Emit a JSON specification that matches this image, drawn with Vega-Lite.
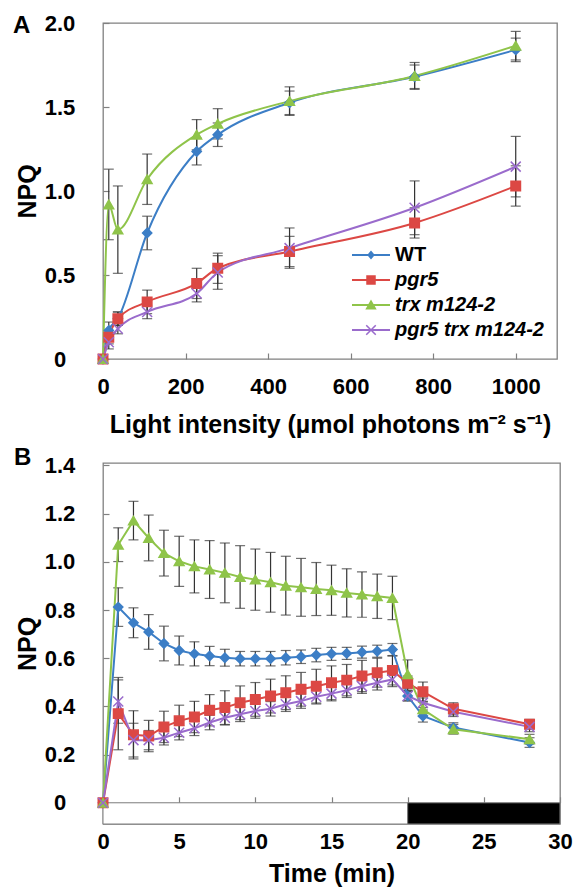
{
  "$schema": "https://vega.github.io/schema/vega-lite/v6.json",
  "padding": {"left": 12, "top": 11, "right": 2, "bottom": 2},
  "background": "white",
  "config": {
    "font": "Liberation Sans",
    "view": {"stroke": "#808080", "strokeWidth": 1.3},
    "axis": {"grid": false, "domain": false, "tickColor": "#808080", "tickSize": -6, "tickWidth": 1.2, "labelFontSize": 22, "labelFontWeight": "bold", "labelColor": "black", "titleFontSize": 25, "titleFontWeight": "bold", "titleColor": "black", "labelFlush": false, "labelOverlap": false},
    "axisY": {"labelAlign": "center", "labelPadding": 49.5, "titlePadding": 4},
    "axisX": {"labelPadding": 23, "titlePadding": 15},
    "title": {"fontSize": 24, "fontWeight": "bold", "color": "black", "anchor": "start", "frame": "group", "offset": 0, "baseline": "alphabetic"}
  },
  "datasets": {
    "a": [
      {"g": "WT", "x": 0, "y": 0, "e": 0}, {"g": "WT", "x": 14, "y": 0.17, "e": 0.05}, {"g": "WT", "x": 36, "y": 0.24, "e": 0.04}, {"g": "WT", "x": 107, "y": 0.75, "e": 0.1}, {"g": "WT", "x": 227, "y": 1.235, "e": 0.08}, {"g": "WT", "x": 278, "y": 1.335, "e": 0.07}, {"g": "WT", "x": 452, "y": 1.525, "e": 0.07}, {"g": "WT", "x": 755, "y": 1.68, "e": 0.07}, {"g": "WT", "x": 1000, "y": 1.84, "e": 0.07},
      {"g": "pgr5", "x": 0, "y": 0, "e": 0}, {"g": "pgr5", "x": 14, "y": 0.13, "e": 0.04}, {"g": "pgr5", "x": 36, "y": 0.24, "e": 0.04}, {"g": "pgr5", "x": 107, "y": 0.34, "e": 0.07}, {"g": "pgr5", "x": 227, "y": 0.45, "e": 0.09}, {"g": "pgr5", "x": 278, "y": 0.54, "e": 0.09}, {"g": "pgr5", "x": 452, "y": 0.64, "e": 0.09}, {"g": "pgr5", "x": 755, "y": 0.81, "e": 0.09}, {"g": "pgr5", "x": 1000, "y": 1.03, "e": 0.12},
      {"g": "trx m124-2", "x": 0, "y": 0, "e": 0}, {"g": "trx m124-2", "x": 14, "y": 0.92, "e": 0.21}, {"g": "trx m124-2", "x": 36, "y": 0.77, "e": 0.26}, {"g": "trx m124-2", "x": 107, "y": 1.07, "e": 0.15}, {"g": "trx m124-2", "x": 227, "y": 1.335, "e": 0.09}, {"g": "trx m124-2", "x": 278, "y": 1.4, "e": 0.09}, {"g": "trx m124-2", "x": 452, "y": 1.535, "e": 0.085}, {"g": "trx m124-2", "x": 755, "y": 1.685, "e": 0.08}, {"g": "trx m124-2", "x": 1000, "y": 1.865, "e": 0.085},
      {"g": "pgr5 trx m124-2", "x": 0, "y": 0, "e": 0}, {"g": "pgr5 trx m124-2", "x": 14, "y": 0.1, "e": 0.04}, {"g": "pgr5 trx m124-2", "x": 36, "y": 0.18, "e": 0.03}, {"g": "pgr5 trx m124-2", "x": 107, "y": 0.28, "e": 0.04}, {"g": "pgr5 trx m124-2", "x": 227, "y": 0.39, "e": 0.05}, {"g": "pgr5 trx m124-2", "x": 278, "y": 0.515, "e": 0.1}, {"g": "pgr5 trx m124-2", "x": 452, "y": 0.66, "e": 0.12}, {"g": "pgr5 trx m124-2", "x": 755, "y": 0.9, "e": 0.16}, {"g": "pgr5 trx m124-2", "x": 1000, "y": 1.145, "e": 0.18}
    ],
    "b": [
      {"g": "WT", "t": 0, "y": 0, "e": 0}, {"g": "WT", "t": 1, "y": 0.812, "e": 0.08}, {"g": "WT", "t": 2, "y": 0.747, "e": 0.062}, {"g": "WT", "t": 3, "y": 0.709, "e": 0.072}, {"g": "WT", "t": 4, "y": 0.661, "e": 0.072}, {"g": "WT", "t": 5, "y": 0.632, "e": 0.06}, {"g": "WT", "t": 6, "y": 0.618, "e": 0.05}, {"g": "WT", "t": 7, "y": 0.609, "e": 0.04}, {"g": "WT", "t": 8, "y": 0.602, "e": 0.035}, {"g": "WT", "t": 9, "y": 0.598, "e": 0.03}, {"g": "WT", "t": 10, "y": 0.598, "e": 0.03}, {"g": "WT", "t": 11, "y": 0.598, "e": 0.03}, {"g": "WT", "t": 12, "y": 0.602, "e": 0.03}, {"g": "WT", "t": 13, "y": 0.606, "e": 0.028}, {"g": "WT", "t": 14, "y": 0.613, "e": 0.028}, {"g": "WT", "t": 15, "y": 0.618, "e": 0.027}, {"g": "WT", "t": 16, "y": 0.62, "e": 0.025}, {"g": "WT", "t": 17, "y": 0.625, "e": 0.025}, {"g": "WT", "t": 18, "y": 0.629, "e": 0.025}, {"g": "WT", "t": 19, "y": 0.636, "e": 0.025}, {"g": "WT", "t": 20, "y": 0.443, "e": 0.02}, {"g": "WT", "t": 21, "y": 0.36, "e": 0.025}, {"g": "WT", "t": 23, "y": 0.312, "e": 0.02}, {"g": "WT", "t": 28, "y": 0.25, "e": 0.02},
      {"g": "pgr5", "t": 0, "y": 0, "e": 0}, {"g": "pgr5", "t": 1, "y": 0.37, "e": 0.15}, {"g": "pgr5", "t": 2, "y": 0.282, "e": 0.1}, {"g": "pgr5", "t": 3, "y": 0.277, "e": 0.065}, {"g": "pgr5", "t": 4, "y": 0.315, "e": 0.065}, {"g": "pgr5", "t": 5, "y": 0.34, "e": 0.065}, {"g": "pgr5", "t": 6, "y": 0.356, "e": 0.065}, {"g": "pgr5", "t": 7, "y": 0.384, "e": 0.065}, {"g": "pgr5", "t": 8, "y": 0.395, "e": 0.07}, {"g": "pgr5", "t": 9, "y": 0.415, "e": 0.07}, {"g": "pgr5", "t": 10, "y": 0.429, "e": 0.07}, {"g": "pgr5", "t": 11, "y": 0.443, "e": 0.07}, {"g": "pgr5", "t": 12, "y": 0.457, "e": 0.07}, {"g": "pgr5", "t": 13, "y": 0.471, "e": 0.07}, {"g": "pgr5", "t": 14, "y": 0.484, "e": 0.07}, {"g": "pgr5", "t": 15, "y": 0.498, "e": 0.07}, {"g": "pgr5", "t": 16, "y": 0.509, "e": 0.065}, {"g": "pgr5", "t": 17, "y": 0.526, "e": 0.065}, {"g": "pgr5", "t": 18, "y": 0.54, "e": 0.06}, {"g": "pgr5", "t": 19, "y": 0.549, "e": 0.06}, {"g": "pgr5", "t": 20, "y": 0.496, "e": 0.03}, {"g": "pgr5", "t": 21, "y": 0.461, "e": 0.04}, {"g": "pgr5", "t": 23, "y": 0.39, "e": 0.025}, {"g": "pgr5", "t": 28, "y": 0.326, "e": 0.02},
      {"g": "trx m124-2", "t": 0, "y": 0, "e": 0}, {"g": "trx m124-2", "t": 1, "y": 1.071, "e": 0.07}, {"g": "trx m124-2", "t": 2, "y": 1.171, "e": 0.08}, {"g": "trx m124-2", "t": 3, "y": 1.099, "e": 0.095}, {"g": "trx m124-2", "t": 4, "y": 1.036, "e": 0.095}, {"g": "trx m124-2", "t": 5, "y": 1.002, "e": 0.104}, {"g": "trx m124-2", "t": 6, "y": 0.981, "e": 0.11}, {"g": "trx m124-2", "t": 7, "y": 0.968, "e": 0.12}, {"g": "trx m124-2", "t": 8, "y": 0.954, "e": 0.124}, {"g": "trx m124-2", "t": 9, "y": 0.937, "e": 0.13}, {"g": "trx m124-2", "t": 10, "y": 0.926, "e": 0.127}, {"g": "trx m124-2", "t": 11, "y": 0.915, "e": 0.124}, {"g": "trx m124-2", "t": 12, "y": 0.901, "e": 0.122}, {"g": "trx m124-2", "t": 13, "y": 0.894, "e": 0.12}, {"g": "trx m124-2", "t": 14, "y": 0.887, "e": 0.11}, {"g": "trx m124-2", "t": 15, "y": 0.882, "e": 0.104}, {"g": "trx m124-2", "t": 16, "y": 0.871, "e": 0.1}, {"g": "trx m124-2", "t": 17, "y": 0.864, "e": 0.094}, {"g": "trx m124-2", "t": 18, "y": 0.857, "e": 0.092}, {"g": "trx m124-2", "t": 19, "y": 0.85, "e": 0.09}, {"g": "trx m124-2", "t": 20, "y": 0.533, "e": 0.06}, {"g": "trx m124-2", "t": 21, "y": 0.388, "e": 0.03}, {"g": "trx m124-2", "t": 23, "y": 0.305, "e": 0.02}, {"g": "trx m124-2", "t": 28, "y": 0.264, "e": 0.02},
      {"g": "pgr5 trx m124-2", "t": 0, "y": 0, "e": 0}, {"g": "pgr5 trx m124-2", "t": 1, "y": 0.42, "e": 0.09}, {"g": "pgr5 trx m124-2", "t": 2, "y": 0.26, "e": 0.07}, {"g": "pgr5 trx m124-2", "t": 3, "y": 0.26, "e": 0.04}, {"g": "pgr5 trx m124-2", "t": 4, "y": 0.27, "e": 0.03}, {"g": "pgr5 trx m124-2", "t": 5, "y": 0.291, "e": 0.03}, {"g": "pgr5 trx m124-2", "t": 6, "y": 0.309, "e": 0.03}, {"g": "pgr5 trx m124-2", "t": 7, "y": 0.333, "e": 0.03}, {"g": "pgr5 trx m124-2", "t": 8, "y": 0.353, "e": 0.03}, {"g": "pgr5 trx m124-2", "t": 9, "y": 0.367, "e": 0.03}, {"g": "pgr5 trx m124-2", "t": 10, "y": 0.381, "e": 0.03}, {"g": "pgr5 trx m124-2", "t": 11, "y": 0.39, "e": 0.03}, {"g": "pgr5 trx m124-2", "t": 12, "y": 0.409, "e": 0.03}, {"g": "pgr5 trx m124-2", "t": 13, "y": 0.422, "e": 0.03}, {"g": "pgr5 trx m124-2", "t": 14, "y": 0.44, "e": 0.03}, {"g": "pgr5 trx m124-2", "t": 15, "y": 0.453, "e": 0.03}, {"g": "pgr5 trx m124-2", "t": 16, "y": 0.467, "e": 0.03}, {"g": "pgr5 trx m124-2", "t": 17, "y": 0.484, "e": 0.03}, {"g": "pgr5 trx m124-2", "t": 18, "y": 0.498, "e": 0.03}, {"g": "pgr5 trx m124-2", "t": 19, "y": 0.512, "e": 0.03}, {"g": "pgr5 trx m124-2", "t": 20, "y": 0.443, "e": 0.02}, {"g": "pgr5 trx m124-2", "t": 21, "y": 0.415, "e": 0.02}, {"g": "pgr5 trx m124-2", "t": 23, "y": 0.378, "e": 0.02}, {"g": "pgr5 trx m124-2", "t": 28, "y": 0.315, "e": 0.02}
    ],
    "period": [
      {"phase": "light", "s": 0, "f": 20},
      {"phase": "dark", "s": 20, "f": 30}
    ]
  },
  "spacing": 7,
  "resolve": {"legend": {"color": "independent"}},
  "vconcat": [
    {
      "width": 454,
      "height": 336,
      "title": {"text": "A", "dx": -90, "dy": 30},
      "data": {"name": "a"},
      "encoding": {
        "x": {"field": "x", "type": "quantitative", "scale": {"domain": [0, 1100], "nice": false}, "axis": {"values": [0, 200, 400, 600, 800, 1000], "format": "d", "title": "Light intensity (µmol photons m⁻² s⁻¹)"}},
        "y": {"field": "y", "type": "quantitative", "scale": {"domain": [0, 2], "nice": false}, "axis": {"values": [0, 0.5, 1, 1.5, 2], "labelExpr": "datum.value === 0 ? '0' : format(datum.value, '.1f')", "title": "NPQ"}},
        "color": {"field": "g", "type": "nominal", "scale": {"domain": ["WT", "pgr5", "trx m124-2", "pgr5 trx m124-2"], "range": ["#3c7ec6", "#dc4844", "#8fc44a", "#9a6bcc"]},
          "legend": {"title": null, "orient": "none", "legendX": 258, "legendY": 222, "labelFontSize": 20, "labelFontWeight": "bold", "labelColor": "black", "symbolSize": 361, "symbolStrokeWidth": 0, "symbolOpacity": 1, "labelOffset": 14, "rowPadding": 5, "padding": 0,
            "encode": {
              "symbols": {"update": {"shape": {"signal": "datum.value === 'WT' ? 'M-2,-0.1L2,-0.1L2,0.1L-2,0.1Z M0,-0.48L0.4,0L0,0.48L-0.4,0Z' : datum.value === 'pgr5' ? 'M-2,-0.1L2,-0.1L2,0.1L-2,0.1Z M-0.5,-0.5L0.5,-0.5L0.5,0.5L-0.5,0.5Z' : datum.value === 'trx m124-2' ? 'M-2,-0.1L2,-0.1L2,0.1L-2,0.1Z M0,-0.58L0.6,0.47L-0.6,0.47Z' : 'M-2,-0.1L2,-0.1L2,0.1L-2,0.1Z M-0.557,-0.443L-0.443,-0.557L0.557,0.443L0.443,0.557Z M0.443,-0.557L0.557,-0.443L-0.443,0.557L-0.557,0.443Z'"}}},
              "labels": {"update": {"fontStyle": {"signal": "datum.value === 'WT' ? 'normal' : 'italic'"}}}
            }
          }
        }
      },
      "layer": [
        {"transform": [{"filter": "datum.e > 0"}], "mark": {"type": "errorbar", "thickness": 1.2, "ticks": {"size": 10}}, "encoding": {"yError": {"field": "e"}, "color": {"value": "#333333"}}},
        {"mark": {"type": "line", "interpolate": "monotone", "strokeWidth": 2}},
        {"mark": {"type": "point", "filled": true, "opacity": 1, "strokeWidth": 1.5},
          "encoding": {
            "shape": {"field": "g", "type": "nominal", "scale": {"domain": ["WT", "pgr5", "trx m124-2", "pgr5 trx m124-2"], "range": ["diamond", "square", "triangle-up", "M-1,-1L1,1M1,-1L-1,1"]}, "legend": null},
            "size": {"field": "g", "type": "ordinal", "scale": {"domain": ["WT", "pgr5", "trx m124-2", "pgr5 trx m124-2"], "range": [85, 100, 110, 90]}, "legend": null},
            "stroke": {"field": "g", "type": "nominal", "scale": {"domain": ["WT", "pgr5", "trx m124-2", "pgr5 trx m124-2"], "range": ["#3c7ec6", "#dc4844", "#8fc44a", "#9a6bcc"]}, "legend": null}
          }
        }
      ]
    },
    {
      "width": 457,
      "height": 361,
      "title": {"text": "B", "dx": -89, "dy": 20},
      "layer": [
        {"data": {"name": "period"}, "mark": {"type": "rect", "stroke": "#808080", "strokeWidth": 1, "opacity": 1},
          "encoding": {
            "x": {"field": "s", "type": "quantitative", "title": "Time (min)", "scale": {"domain": [0, 30], "nice": false}, "axis": {"values": [0, 5, 10, 15, 20, 25, 30], "title": "Time (min)", "offset": -21.2, "domain": true, "domainColor": "#808080", "labelPadding": 35, "titlePadding": 9}},
            "x2": {"field": "f"},
            "y": {"datum": 0, "type": "quantitative", "title": "NPQ", "scale": {"domain": [-0.088, 1.41], "nice": false, "zero": false}, "axis": {"values": [0, 0.2, 0.4, 0.6, 0.8, 1, 1.2, 1.4], "labelExpr": "datum.value === 0 ? '0' : format(datum.value, '.1f')", "title": "NPQ"}},
            "y2": {"datum": -0.088},
            "fill": {"field": "phase", "type": "nominal", "scale": {"domain": ["light", "dark"], "range": ["#ffffff", "#000000"]}, "legend": null}
          }
        },
        {"data": {"name": "b"}, "transform": [{"filter": "datum.e > 0"}], "mark": {"type": "errorbar", "thickness": 1.2, "ticks": {"size": 10}, "color": "#333333"},
          "encoding": {"x": {"field": "t", "type": "quantitative", "title": "Time (min)"}, "y": {"field": "y", "type": "quantitative", "title": "NPQ"}, "yError": {"field": "e"}}},
        {"data": {"name": "b"}, "mark": {"type": "line", "strokeWidth": 2},
          "encoding": {"x": {"field": "t", "type": "quantitative", "title": "Time (min)"}, "y": {"field": "y", "type": "quantitative", "title": "NPQ"},
            "color": {"field": "g", "type": "nominal", "scale": {"domain": ["WT", "pgr5", "trx m124-2", "pgr5 trx m124-2"], "range": ["#3c7ec6", "#dc4844", "#8fc44a", "#9a6bcc"]}, "legend": null}}},
        {"data": {"name": "b"}, "mark": {"type": "point", "filled": true, "opacity": 1, "strokeWidth": 1.5},
          "encoding": {
            "x": {"field": "t", "type": "quantitative", "title": "Time (min)"}, "y": {"field": "y", "type": "quantitative", "title": "NPQ"},
            "color": {"field": "g", "type": "nominal", "scale": {"domain": ["WT", "pgr5", "trx m124-2", "pgr5 trx m124-2"], "range": ["#3c7ec6", "#dc4844", "#8fc44a", "#9a6bcc"]}, "legend": null},
            "shape": {"field": "g", "type": "nominal", "scale": {"domain": ["WT", "pgr5", "trx m124-2", "pgr5 trx m124-2"], "range": ["diamond", "square", "triangle-up", "M-1,-1L1,1M1,-1L-1,1"]}, "legend": null},
            "size": {"field": "g", "type": "ordinal", "scale": {"domain": ["WT", "pgr5", "trx m124-2", "pgr5 trx m124-2"], "range": [85, 100, 110, 90]}, "legend": null},
            "stroke": {"field": "g", "type": "nominal", "scale": {"domain": ["WT", "pgr5", "trx m124-2", "pgr5 trx m124-2"], "range": ["#3c7ec6", "#dc4844", "#8fc44a", "#9a6bcc"]}, "legend": null}
          }
        }
      ]
    }
  ]
}
